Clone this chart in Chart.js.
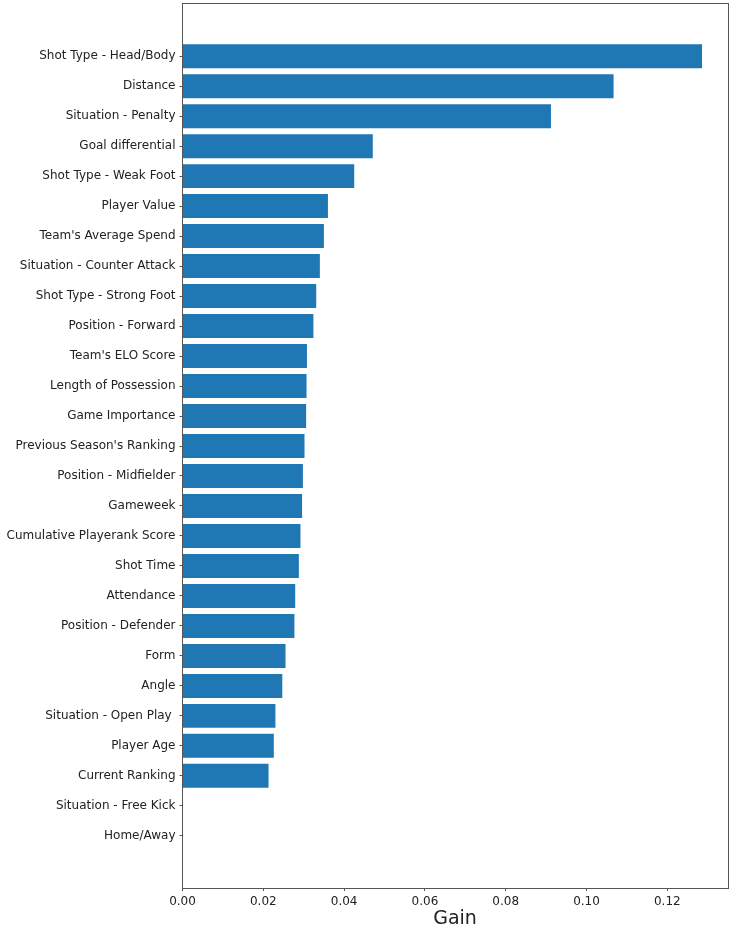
<!DOCTYPE html>
<html>
<head>
<meta charset="utf-8">
<script src="https://cdn.jsdelivr.net/npm/chart.js@4.4.0/dist/chart.umd.min.js"></script>
<style>
    body { margin: 0; background: #fff; }
</style>
</head>
<body>
<canvas id="myChart" width="733" height="930"></canvas>
<script>
let features = [
    'Shot Type - Head/Body',
    'Distance',
    'Situation - Penalty',
    'Goal differential',
    'Shot Type - Weak Foot',
    'Player Value',
    "Team's Average Spend",
    'Situation - Counter Attack',
    'Shot Type - Strong Foot',
    'Position - Forward',
    "Team's ELO Score",
    'Length of Possession',
    'Game Importance',
    "Previous Season's Ranking",
    'Position - Midfielder',
    'Gameweek',
    'Cumulative Playerank Score',
    'Shot Time',
    'Attendance',
    'Position - Defender',
    'Form',
    'Angle',
    'Situation - Open Play ',
    'Player Age',
    'Current Ranking',
    'Situation - Free Kick',
    'Home/Away'
];

let gain = [
    0.1286, 0.1067, 0.0912, 0.0471, 0.0425, 0.0360, 0.0350, 0.0340, 0.0331,
    0.0324, 0.0308, 0.0307, 0.0306, 0.0302, 0.0298, 0.0296, 0.0292, 0.0288,
    0.0279, 0.0277, 0.0255, 0.0247, 0.0230, 0.0226, 0.0213, 0, 0
];

let xTicks = [0, 0.02, 0.04, 0.06, 0.08, 0.10, 0.12];

let points = []; // индекс признака по оси y, значение по оси x
gain.forEach(function(item, i){
    points.push({x: item, y: i});
});

let textColor = '#222';
let lineColor = '#555';

// рамка вокруг области графика (как spines в matplotlib)
let frame = {
    id: 'frame',
    afterDraw: function(chart){
        let a = chart.chartArea;
        let ctx = chart.ctx;
        ctx.save();
        ctx.strokeStyle = lineColor;
        ctx.lineWidth = 1;
        ctx.strokeRect(Math.round(a.left) - 0.5, Math.round(a.top) - 0.5,
            Math.round(a.right - a.left) + 1, Math.round(a.bottom - a.top) + 1);
        ctx.restore();
    }
};

let data = {
    datasets: [{
        data: points,
        backgroundColor: '#1f77b4',
        borderWidth: 0,
        barPercentage: 0.8,
        categoryPercentage: 1.0
    }]
};

let config = {
    type: 'bar',
    data: data,
    plugins: [frame],
    options: {
        indexAxis: 'y',
        responsive: false,
        animation: false,
        layout: { padding: { left: 0, right: 5.5, top: 4, bottom: 0 } },
        plugins: {
            legend: { display: false },
            tooltip: { enabled: false }
        },
        scales: {
            x: {
                type: 'linear',
                min: 0,
                max: 0.1349,
                offset: false,
                afterBuildTicks: function(scale){
                    scale.ticks = xTicks.map(function(v){ return {value: v}; });
                },
                afterFit: function(scale){
                    scale.height = 42;
                    scale.paddingLeft = 0;
                    scale.paddingRight = 0;
                },
                grid: { offset: false, drawOnChartArea: false, drawTicks: true, tickLength: 3, tickColor: lineColor },
                border: { display: false },
                ticks: {
                    padding: 4,
                    color: textColor,
                    font: { family: 'DejaVu Sans', size: 12 },
                    maxRotation: 0,
                    callback: function(v){ return Number(v).toFixed(2); }
                },
                title: {
                    display: true,
                    text: 'Gain',
                    color: textColor,
                    font: { family: 'DejaVu Sans', size: 19 },
                    padding: 0
                }
            },
            y: {
                type: 'linear',
                reverse: true,
                min: -1.74,
                max: 27.74,
                offset: false,
                afterBuildTicks: function(scale){
                    scale.ticks = features.map(function(f, i){ return {value: i}; });
                },
                afterFit: function(scale){
                    scale.width = 182.5;
                    scale.paddingTop = 0;
                    scale.paddingBottom = 0;
                },
                grid: { offset: false, drawOnChartArea: false, drawTicks: true, tickLength: 3, tickColor: lineColor },
                border: { display: false },
                ticks: {
                    padding: 4,
                    color: textColor,
                    font: { family: 'DejaVu Sans', size: 12 },
                    autoSkip: false,
                    callback: function(v){ return features[v]; }
                }
            }
        }
    }
};

let myChart = new Chart(
    document.getElementById('myChart'),
    config
    );
</script>
</body>
</html>
